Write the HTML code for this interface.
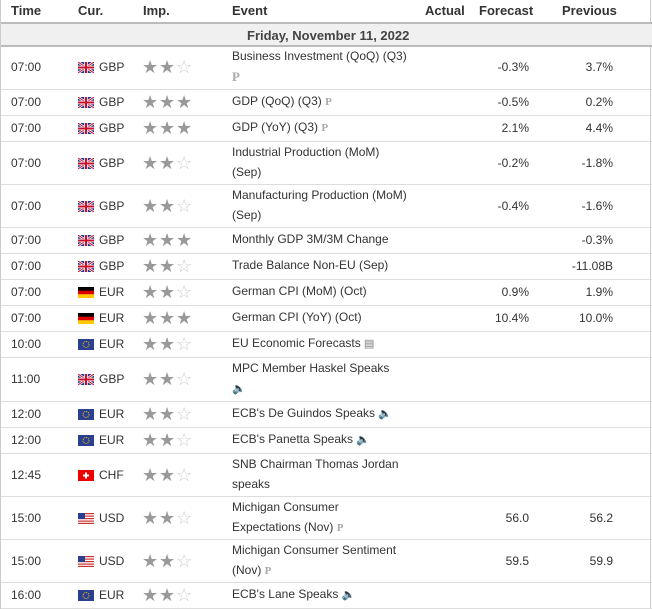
<!DOCTYPE html>
<html><head><meta charset="utf-8"><style>
body{margin:0;width:652px;height:609px;background:#fff;font-family:"Liberation Sans",Arial,sans-serif;color:#333;overflow:hidden}
#t{position:absolute;left:0;top:0;width:651px;height:609px;border-left:1px solid #ccc;border-right:1px solid #ccc;box-sizing:border-box}
.a{position:absolute;white-space:nowrap}
.h{font-size:13px;font-weight:bold;color:#333;top:3px}
.c{font-size:12px}
.star{position:absolute;font-size:18px;line-height:18px;color:#999}
.star.o{color:#ccc}
.ic{color:#aaa;font-size:11px;font-weight:bold}
svg{display:block}
</style></head><body>
<div id="t">
<div class="a h" style="left:10px">Time</div>
<div class="a h" style="left:77px">Cur.</div>
<div class="a h" style="left:142px">Imp.</div>
<div class="a h" style="left:231px">Event</div>
<div class="a h" style="left:424px">Actual</div>
<div class="a h" style="left:478px">Forecast</div>
<div class="a h" style="left:561px">Previous</div>
<div class="a" style="left:0;top:22px;width:651px;height:2px;background:#bbb"></div>
<div class="a" style="left:0;top:24px;width:651px;height:21px;background:#f0f0f0"></div>
<div class="a" style="left:246px;top:28px;font-size:13px;font-weight:bold;color:#444">Friday, November 11, 2022</div>
<div class="a" style="left:0;top:45px;width:651px;height:2px;background:#bbb"></div>
</div>
<script>
const times=["07:00","07:00","07:00","07:00","07:00","07:00","07:00","07:00","07:00","10:00","11:00","12:00","12:00","12:45","15:00","15:00","16:00"];
const curs=["GBP","GBP","GBP","GBP","GBP","GBP","GBP","EUR","EUR","EUR","GBP","EUR","EUR","CHF","USD","USD","EUR"];
const flags=["uk","uk","uk","uk","uk","uk","uk","de","de","eu","uk","eu","eu","ch","us","us","eu"];
const imps=[2,3,3,2,2,3,2,2,3,2,2,2,2,2,2,2,2];
const events=[["Business Investment (QoQ) (Q3)","P"],["GDP (QoQ) (Q3) ","P"],["GDP (YoY) (Q3) ","P"],["Industrial Production (MoM)","(Sep)"],["Manufacturing Production (MoM)","(Sep)"],["Monthly GDP 3M/3M Change",""],["Trade Balance Non-EU (Sep)",""],["German CPI (MoM) (Oct)",""],["German CPI (YoY) (Oct)",""],["EU Economic Forecasts ","▤"],["MPC Member Haskel Speaks","🔈"],["ECB's De Guindos Speaks ","🔈"],["ECB's Panetta Speaks ","🔈"],["SNB Chairman Thomas Jordan","speaks"],["Michigan Consumer","Expectations (Nov) P"],["Michigan Consumer Sentiment","(Nov) P"],["ECB's Lane Speaks ","🔈"]];
const forecasts=["-0.3%","-0.5%","2.1%","-0.2%","-0.4%","","","0.9%","10.4%","","","","","","56.0","59.5",""];
const previous=["3.7%","0.2%","4.4%","-1.8%","-1.6%","-0.3%","-11.08B","1.9%","10.0%","","","","","","56.2","59.9",""];
const tops=[45,89,115,141,184,227,253,279,305,331,357,401,427,453,496,539,582];
const bots=[89,115,141,184,227,253,279,305,331,357,401,427,453,496,539,582,608];
const t=document.getElementById('t');
function flagHTML(f){
 if(f=="uk")return '<svg width="16" height="11"><rect width="16" height="11" fill="#1d3b8a"/><path d="M0 0L16 11M16 0L0 11" stroke="#fff" stroke-width="2.5"/><path d="M0 0L16 11M16 0L0 11" stroke="#c8102e" stroke-width="1"/><path d="M8 0V11M0 5.5H16" stroke="#fff" stroke-width="3.5"/><path d="M8 0V11M0 5.5H16" stroke="#c8102e" stroke-width="2"/></svg>';
 if(f=="de")return '<svg width="16" height="11"><rect width="16" height="4" fill="#000"/><rect y="3.7" width="16" height="3.7" fill="#d00"/><rect y="7.3" width="16" height="3.7" fill="#fc0"/></svg>';
 if(f=="eu")return '<svg width="16" height="11"><rect width="16" height="11" fill="#2a3f8f"/><circle cx="8" cy="5.5" r="3" fill="none" stroke="#fc0" stroke-width="1" stroke-dasharray="1 1"/></svg>';
 if(f=="ch")return '<svg width="16" height="11"><rect width="16" height="11" fill="#e00"/><path d="M8 2.5V8.5M5 5.5H11" stroke="#fff" stroke-width="2"/></svg>';
 return '<svg width="16" height="11"><rect width="16" height="11" fill="#fff"/><g fill="#c33"><rect width="16" height="1.2"/><rect y="2.5" width="16" height="1.2"/><rect y="5" width="16" height="1.2"/><rect y="7.5" width="16" height="1.2"/><rect y="9.8" width="16" height="1.2"/></g><rect width="7" height="6" fill="#2a3f8f"/></svg>';
}
for(let i=0;i<times.length;i++){
 const top=tops[i],h=bots[i]-top;
 const line=document.createElement('div');line.className='a';
 line.style.cssText=`left:0;top:${bots[i]}px;width:651px;height:1px;background:#ddd`;
 
 
 t.appendChild(line);
 const row=document.createElement('div');row.className='a';
 row.style.cssText=`left:0;top:${top}px;width:651px;height:${h}px`;
 
 
 const y=h/2-8;
 let s=`<div class="a c" style="left:10px;top:${y+1}px">${times[i]}</div>`;
 s+=`<div class="a" style="left:77px;top:${h/2-5}px">${flagHTML(flags[i])}</div>`;
 s+=`<div class="a c" style="left:98px;top:${y+1}px">${curs[i]}</div>`;
 for(let k=0;k<3;k++)s+=`<div class="star ${k<imps[i]?'':'o'}" style="left:${141+k*17}px;top:${h/2-9}px">${k<imps[i]?'★':'☆'}</div>`;
 const ev=events[i];
 const two=h>30;
 if(two){
  let l2=ev[1];
  l2=l2.replace(' P',' <span class="ic" style="font-family:Liberation Serif">P</span>').replace(/^P$/,'<span class="ic" style="font-family:Liberation Serif;font-size:13px">P</span>').replace('🔈','<span class="ic">🔈</span>');
  s+=`<div class="a c" style="left:231px;top:${h/2-18}px">${ev[0]}</div><div class="a c" style="left:231px;top:${h/2+2}px">${l2}</div>`;
 } else {
  let x=ev[1]?(ev[1]=="P"?'<span class="ic" style="font-family:Liberation Serif">P</span>':'<span class="ic">'+ev[1]+'</span>'):'';
  s+=`<div class="a c" style="left:231px;top:${y}px">${ev[0]}${x}</div>`;
 }
 s+=`<div class="a c" style="right:${651-528}px;top:${y+1}px">${forecasts[i]}</div>`;
 s+=`<div class="a c" style="right:${651-612}px;top:${y+1}px">${previous[i]}</div>`;
 row.innerHTML=s;
 t.appendChild(row);
}
</script>
</body></html>
